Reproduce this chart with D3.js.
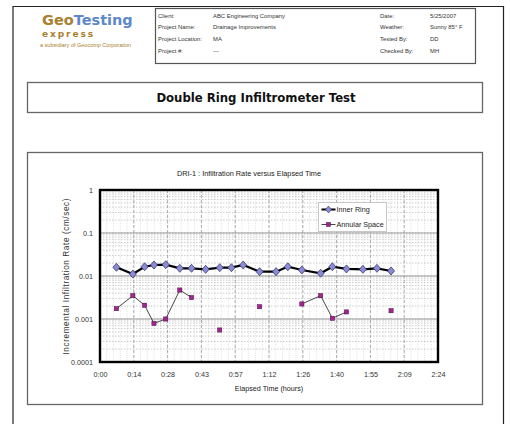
<!DOCTYPE html>
<html>
<head>
<meta charset="utf-8">
<script src="https://cdn.jsdelivr.net/npm/d3@7"></script>
<style>
  body { margin: 0; background: #fff; }
  svg { display: block; font-family: "Liberation Sans", Arial, sans-serif; }
</style>
</head>
<body>
<div id="page"></div>
<script>
// elapsed time in minutes, rates in cm/sec (null = no reading)
const elapsedMin = [7, 14, 19, 23, 28, 34, 39, 45, 51, 56, 61, 68, 75, 80, 86, 94, 99, 105, 112, 118, 124];
const innerRing = [0.0159, 0.0111, 0.0164, 0.018, 0.0183, 0.0151, 0.0151, 0.0143, 0.0156, 0.0156, 0.018,
  0.0126, 0.0126, 0.0164, 0.0138, 0.0116, 0.0164, 0.0146, 0.0143, 0.0151, 0.0131];
const annularSpace = [0.00174, 0.00349, 0.00209, 0.00079, 0.0010, 0.00472, 0.00315, null, 0.000555, null, null,
  0.00193, null, null, 0.00224, 0.00349, 0.00104, 0.00146, null, null, 0.00156];

const xTickMin = [0, 14.4, 28.8, 43.2, 57.6, 72, 86.4, 100.8, 115.2, 129.6, 144];
const xTickLabels = ["0:00", "0:14", "0:28", "0:43", "0:57", "1:12", "1:26", "1:40", "1:55", "2:09", "2:24"];
const yTicks = [0.0001, 0.001, 0.01, 0.1, 1];
const yTickLabels = ["0.0001", "0.001", "0.01", "0.1", "1"];

const seriesNames = ["Inner Ring", "Annular Space"];

const infoLeft = [["Client:", "ABC Engineering Company"], ["Project Name:", "Drainage Improvements"],
  ["Project Location:", "MA"], ["Project #:", "---"]];
const infoRight = [["Date:", "5/25/2007"], ["Weather:", "Sunny 85\u00b0 F"],
  ["Tested By:", "DD"], ["Checked By:", "MH"]];

const W = 510, H = 424;
const svg = d3.select("#page").append("svg").attr("width", W).attr("height", H);

// page frame
svg.append("path").attr("d", "M13,424V6.5H503.5V424").attr("fill", "none").attr("stroke", "#222").attr("stroke-width", 1.2);

// logo
const logo = svg.append("text").attr("x", 42).attr("y", 25)
  .attr("font-family", "'DejaVu Sans', sans-serif").attr("font-weight", "bold").attr("font-size", 14.5);
logo.append("tspan").attr("fill", "#a8802f").text("Geo");
logo.append("tspan").attr("fill", "#5e88c8").text("Testing");
svg.append("text").attr("x", 42).attr("y", 37).attr("fill", "#a8802f")
  .attr("font-family", "'DejaVu Sans', sans-serif").attr("font-weight", "bold")
  .attr("font-size", 9).attr("letter-spacing", 1.9).text("express");
svg.append("text").attr("x", 40).attr("y", 46.5).attr("fill", "#a8802f")
  .attr("font-size", 5.5).text("a subsidiary of Geocomp Corporation");

// info table
svg.append("rect").attr("x", 155.5).attr("y", 8.5).attr("width", 320).attr("height", 55)
  .attr("fill", "#fff").attr("stroke", "#555").attr("stroke-width", 1.2);
const rowY = d3.scaleLinear().domain([0, 3]).range([17.5, 52.5]);
const info = svg.append("g").attr("font-size", 5.9).attr("fill", "#333");
infoLeft.forEach((r, i) => {
  info.append("text").attr("x", 158).attr("y", rowY(i)).text(r[0]);
  info.append("text").attr("x", 213).attr("y", rowY(i)).text(r[1]);
});
infoRight.forEach((r, i) => {
  info.append("text").attr("x", 380).attr("y", rowY(i)).text(r[0]);
  info.append("text").attr("x", 430).attr("y", rowY(i)).text(r[1]);
});

// title box
svg.append("rect").attr("x", 27.5).attr("y", 82.5).attr("width", 455).attr("height", 30)
  .attr("fill", "#fff").attr("stroke", "#666").attr("stroke-width", 1.3);
svg.append("text").attr("x", 256).attr("y", 102).attr("text-anchor", "middle")
  .attr("font-family", "'DejaVu Sans', sans-serif").attr("font-weight", "bold").attr("font-size", 11.7)
  .attr("fill", "#111").text("Double Ring Infiltrometer Test");

// chart box
svg.append("rect").attr("x", 27.5).attr("y", 152.5).attr("width", 455).attr("height", 252)
  .attr("fill", "#fff").attr("stroke", "#666").attr("stroke-width", 1.3);

const plot = { left: 100, right: 438, top: 190, bottom: 362 };
const x = d3.scaleLinear().domain([0, 144]).range([plot.left, plot.right]);
const y = d3.scaleLog().domain([0.0001, 1]).range([plot.bottom, plot.top]);

svg.append("text").attr("x", 249).attr("y", 176).attr("text-anchor", "middle")
  .attr("font-size", 7.3).attr("fill", "#222").text("DRI-1 : Infiltration Rate versus Elapsed Time");

const grid = svg.append("g");
// minor vertical
d3.range(0, 144.01, 2.88).forEach(t => {
  grid.append("line").attr("x1", x(t)).attr("x2", x(t)).attr("y1", plot.top).attr("y2", plot.bottom)
    .attr("stroke", "#ccc").attr("stroke-width", 0.6).attr("stroke-dasharray", "1,1.2");
});
// minor horizontal
y.ticks().forEach(v => {
  grid.append("line").attr("x1", plot.left).attr("x2", plot.right).attr("y1", y(v)).attr("y2", y(v))
    .attr("stroke", "#aaa").attr("stroke-width", 0.6).attr("stroke-dasharray", "1.5,1.5");
});
// major vertical
xTickMin.forEach(t => {
  grid.append("line").attr("x1", x(t)).attr("x2", x(t)).attr("y1", plot.top).attr("y2", plot.bottom)
    .attr("stroke", "#999").attr("stroke-width", 0.8).attr("stroke-dasharray", "3,2");
});
// major horizontal
yTicks.forEach(v => {
  grid.append("line").attr("x1", plot.left).attr("x2", plot.right).attr("y1", y(v)).attr("y2", y(v))
    .attr("stroke", "#999").attr("stroke-width", 1);
});

// axes
const xAxis = d3.axisBottom(x).tickValues(xTickMin).tickSize(0).tickPadding(10)
  .tickFormat((d, i) => xTickLabels[i]);
const gx = svg.append("g").attr("transform", `translate(0,${plot.bottom})`).call(xAxis);
const yAxis = d3.axisLeft(y).tickValues(yTicks).tickSize(0).tickPadding(7)
  .tickFormat((d, i) => yTickLabels[i]);
const gy = svg.append("g").attr("transform", `translate(${plot.left},0)`).call(yAxis);
[gx, gy].forEach(g => {
  g.select(".domain").remove();
  g.selectAll("text").attr("font-size", 7.2).attr("fill", "#333").attr("font-family", "'Liberation Sans', sans-serif");
});

svg.append("rect").attr("x", plot.left).attr("y", plot.top)
  .attr("width", plot.right - plot.left).attr("height", plot.bottom - plot.top)
  .attr("fill", "none").attr("stroke", "#000").attr("stroke-width", 2.4);

svg.append("text").attr("x", 269).attr("y", 391).attr("text-anchor", "middle")
  .attr("font-size", 7.2).attr("fill", "#222").text("Elapsed Time (hours)");
svg.append("text").attr("transform", "translate(69,276.5) rotate(-90)").attr("text-anchor", "middle")
  .attr("font-size", 8.2).attr("fill", "#333").attr("textLength", 156).attr("lengthAdjust", "spacing")
  .text("Incremental Infiltration Rate (cm/sec)");

// series
const diamond = {
  draw(ctx, size) {
    const w = Math.sqrt(size) * 0.55, h = Math.sqrt(size) * 0.62;
    ctx.moveTo(0, -h); ctx.lineTo(w, 0); ctx.lineTo(0, h); ctx.lineTo(-w, 0); ctx.closePath();
  }
};
const pts = (vals) => elapsedMin.map((t, i) => ({ t, v: vals[i] }));
const line = d3.line().defined(d => d.v != null).x(d => x(d.t)).y(d => y(d.v));

const innerPts = pts(innerRing), annPts = pts(annularSpace);

svg.append("path").datum(annPts).attr("d", line).attr("fill", "none")
  .attr("stroke", "#333").attr("stroke-width", 0.9);
svg.append("path").datum(innerPts).attr("d", line).attr("fill", "none")
  .attr("stroke", "#000").attr("stroke-width", 2.2);

svg.append("g").selectAll("path").data(innerPts).join("path")
  .attr("transform", d => `translate(${x(d.t)},${y(d.v)})`)
  .attr("d", d3.symbol().type(diamond).size(42))
  .attr("fill", "#8c8cd6").attr("stroke", "#2a2a60").attr("stroke-width", 0.7);
svg.append("g").selectAll("rect").data(annPts.filter(d => d.v != null)).join("rect")
  .attr("x", d => x(d.t) - 2.1).attr("y", d => y(d.v) - 2.1).attr("width", 4.2).attr("height", 4.2)
  .attr("fill", "#a3268f").attr("stroke", "#4a0a45").attr("stroke-width", 0.5);

// legend
const lg = svg.append("g").attr("transform", "translate(318.5,202.5)");
lg.append("rect").attr("width", 68).attr("height", 29).attr("fill", "#fff").attr("stroke", "#bbb").attr("stroke-width", 0.8);
seriesNames.forEach((name, i) => {
  const ly = 7 + i * 15;
  const row = lg.append("g").attr("transform", `translate(0,${ly})`);
  row.append("line").attr("x1", 3).attr("x2", 17).attr("stroke", i === 0 ? "#000" : "#333")
    .attr("stroke-width", i === 0 ? 2 : 0.9);
  if (i === 0) {
    row.append("path").attr("transform", "translate(10,0)").attr("d", d3.symbol().type(diamond).size(30)())
      .attr("fill", "#8c8cd6").attr("stroke", "#2a2a60").attr("stroke-width", 0.6);
  } else {
    row.append("rect").attr("x", 8).attr("y", -2).attr("width", 4).attr("height", 4)
      .attr("fill", "#a3268f").attr("stroke", "#4a0a45").attr("stroke-width", 0.5);
  }
  row.append("text").attr("x", 18).attr("y", 2.6).attr("font-size", 7.2).attr("fill", "#222").text(name);
});
</script>
</body>
</html>
